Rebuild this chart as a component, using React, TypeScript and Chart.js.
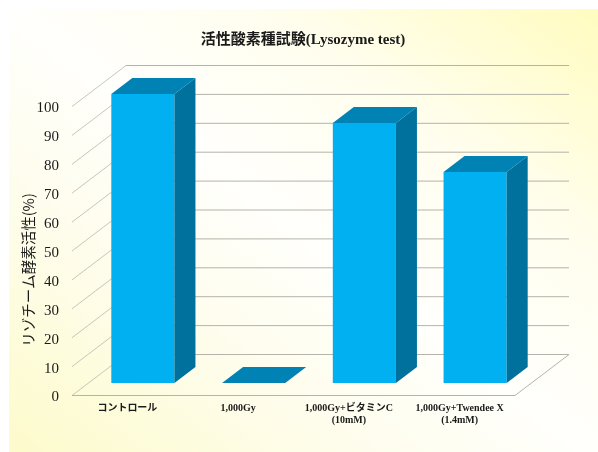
import React, { useEffect, useRef } from "react";
import { Chart, registerables } from "chart.js";

Chart.register(...registerables);

const categories: (string | string[])[] = [
  "コントロール",
  "1,000Gy",
  ["1,000Gy+ビタミンC", "(10mM)"],
  ["1,000Gy+Twendee X", "(1.4mM)"],
];
const activity = [100, 0, 90, 73];
const chartTitle = "活性酸素種試験(Lysozyme test)";
const yAxisTitle = "リゾチーム酵素活性(%)";

const SERIF = '"Liberation Serif", "Noto Sans CJK JP", serif';
const SANS = '"Noto Sans CJK JP", sans-serif';

const WALL = { dx: 54, dy: -41 };
const BAR_SHIFT = { dx: 15.5, dy: -12.5 };
const BAR_DEPTH = { dx: 21, dy: -16 };

const poly = (ctx: CanvasRenderingContext2D, color: string, pts: number[][]) => {
  ctx.beginPath();
  pts.forEach(([x, y], i) => (i ? ctx.lineTo(x, y) : ctx.moveTo(x, y)));
  ctx.closePath();
  ctx.fillStyle = color;
  ctx.fill();
};

const scene = {
  id: "scene",
  afterLayout(chart: any) {
    if (chart.titleBlock) {
      chart.titleBlock.left = 0;
      chart.titleBlock.right = 606;
    }
  },
  beforeDraw(chart: any) {
    const { ctx } = chart;
    const g = ctx.createLinearGradient(90.6, 513.5, 516.4, -52.5);
    g.addColorStop(0, "#FDFBCB");
    g.addColorStop(0.28, "#FEFDEB");
    g.addColorStop(0.5, "#FFFFFC");
    g.addColorStop(0.72, "#FFFEEE");
    g.addColorStop(1, "#FFFCC0");
    ctx.save();
    ctx.fillStyle = "#FFFFFF";
    ctx.fillRect(0, 0, chart.width, chart.height);
    ctx.fillStyle = g;
    ctx.fillRect(9, 9, chart.width - 9, chart.height - 9);

    ctx.translate(28, 270);
    ctx.rotate(-Math.PI / 2);
    ctx.font = `14.5px ${SANS}`;
    ctx.fillStyle = "#1a1a1a";
    ctx.textAlign = "center";
    ctx.textBaseline = "middle";
    ctx.fillText(yAxisTitle, 0, 0);
    ctx.restore();
  },
  beforeDatasetsDraw(chart: any) {
    const { ctx, chartArea, scales } = chart;
    const { left, right } = chartArea;
    ctx.save();
    ctx.lineWidth = 1;
    scales.y.ticks.forEach((t: any) => {
      const y = scales.y.getPixelForValue(t.value);
      ctx.strokeStyle = "#c9c6ba";
      ctx.beginPath();
      ctx.moveTo(left, y);
      ctx.lineTo(left + WALL.dx, y + WALL.dy);
      ctx.stroke();
      ctx.strokeStyle = "#b5b3aa";
      ctx.beginPath();
      ctx.moveTo(left + WALL.dx, y + WALL.dy);
      ctx.lineTo(right + WALL.dx, y + WALL.dy);
      ctx.stroke();
    });
    const y0 = scales.y.getPixelForValue(0);
    ctx.strokeStyle = "#b5b3aa";
    ctx.beginPath();
    ctx.moveTo(left, y0);
    ctx.lineTo(right, y0);
    ctx.lineTo(right + WALL.dx, y0 + WALL.dy);
    ctx.stroke();
    ctx.restore();

    ctx.save();
    ctx.translate(BAR_SHIFT.dx, BAR_SHIFT.dy);
  },
  afterDatasetsDraw(chart: any) {
    const { ctx } = chart;
    chart.getDatasetMeta(0).data.forEach((bar: any) => {
      const l = bar.x - bar.width / 2;
      const r = bar.x + bar.width / 2;
      const t = bar.y;
      const b = bar.base;
      const { dx, dy } = BAR_DEPTH;
      if (b - t > 0.5) {
        poly(ctx, "#00709C", [[r, t], [r + dx, t + dy], [r + dx, b + dy], [r, b]]);
      }
      poly(ctx, "#0082B5", [[l, t], [l + dx, t + dy], [r + dx, t + dy], [r, t]]);
    });
    ctx.restore();
  },
};

export default function App() {
  const ref = useRef<HTMLCanvasElement>(null);
  useEffect(() => {
    const chart = new Chart(ref.current!, {
      type: "bar",
      data: {
        labels: categories,
        datasets: [
          {
            label: yAxisTitle,
            data: activity,
            backgroundColor: "#00B0F0",
            borderWidth: 0,
            barPercentage: 0.57,
            categoryPercentage: 1,
            clip: false as any,
          },
        ],
      },
      options: {
        animation: false,
        responsive: false,
        devicePixelRatio: 1,
        layout: { padding: { left: 0, right: 83, top: 0, bottom: 0 } },
        plugins: {
          legend: { display: false },
          tooltip: { enabled: false },
          title: {
            display: true,
            text: chartTitle,
            color: "#1a1a1a",
            font: { family: SERIF, size: 15, weight: "bold" },
            padding: { top: 31.5, bottom: 57 },
          },
        },
        scales: {
          x: {
            afterFit: (s: any) => {
              s.height = 56.5;
            },
            grid: { display: false, drawTicks: false },
            border: { display: false },
            ticks: {
              padding: 6.5,
              maxRotation: 0,
              minRotation: 0,
              autoSkip: false,
              color: "#1a1a1a",
              font: { family: SERIF, size: 10, weight: "bold", lineHeight: 1.25 },
            },
          },
          y: {
            min: 0,
            max: 100,
            afterFit: (s: any) => {
              s.width = 72;
            },
            grid: { display: false, drawTicks: false },
            border: { display: false },
            ticks: {
              stepSize: 10,
              padding: 13,
              labelOffset: 2,
              color: "#1a1a1a",
              font: { family: SERIF, size: 15 },
            },
          },
        },
      },
      plugins: [scene],
    } as any);
    return () => chart.destroy();
  }, []);
  return (
    <div style={{ position: "absolute", left: 0, top: 0, width: 598, height: 452 }}>
      <canvas ref={ref} width={598} height={452} style={{ display: "block" }} />
    </div>
  );
}
